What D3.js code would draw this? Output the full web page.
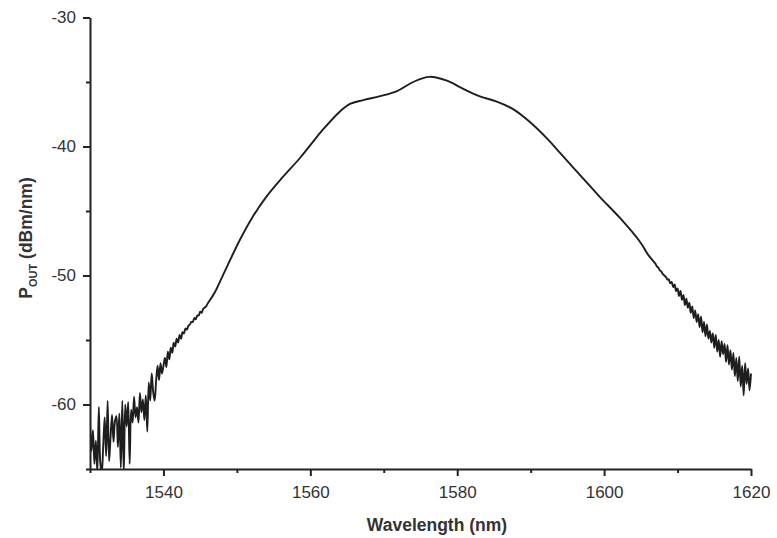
<!DOCTYPE html>
<html><head><meta charset="utf-8">
<script src="https://cdn.jsdelivr.net/npm/d3@7/dist/d3.min.js"></script>
<style>body{margin:0;background:#fff}</style>
</head><body><svg id="c" width="777" height="538"></svg>
<script>
const xMajorTicks = [1540, 1560, 1580, 1600, 1620];
const xMinorTicks = [1530, 1550, 1570, 1590, 1610];
const yMajorTicks = [-60, -50, -40, -30];
const yMinorTicks = [-65, -55, -45, -35];

// noisy short-wavelength edge, sampled every 0.2 nm from 1530.0 nm
const leftStart = 1530.0;
const leftStep = 0.2;
const leftPower = [
  -61.4,-63.6,-62.0,-64.6,-62.8,-65.3,-60.2,-64.5,-65.3,-63.2,
  -61.0,-64.0,-59.7,-64.4,-62.5,-60.8,-62.9,-61.3,-60.9,-63.3,
  -60.7,-64.9,-59.7,-65.3,-60.0,-61.7,-59.8,-64.6,-60.4,-61.4,
  -59.4,-61.0,-60.2,-61.4,-59.1,-60.6,-59.6,-61.2,-59.3,-62.1,
  -58.3,-59.7,-57.6,-59.0,-59.7,-58.2,-57.0,-58.1,-56.8,-57.6,
  -57.0,-56.4,-57.1,-55.9,-56.5,-55.6,-56.0,-55.2,-55.5,-54.9,
  -55.2,-54.6,-54.9,-54.4,-54.5,-54.1,-54.2,-53.9,-53.8,-53.6,
  -53.6,-53.3,-53.4,-53.1,-53.1,-52.8,-52.9,-52.6,-52.5,-52.4,
  -52.2
];

// smooth central part
const midWavelength = [1547.0,1548.0,1550.4,1552.1,1554.0,1556.2,1558.5,1560.0,1561.7,1564.0,1565.4,1567.2,1569.5,1571.8,1574.0,1576.2,1578.6,1580.7,1583.0,1585.3,1587.6,1589.9,1592.6,1594.0,1596.7,1599.4,1602.1,1604.9,1606.0];
const midPower      = [-51.3,-50.1,-47.25,-45.5,-43.9,-42.4,-40.95,-39.9,-38.7,-37.3,-36.7,-36.4,-36.1,-35.7,-35.0,-34.6,-34.9,-35.5,-36.1,-36.5,-37.1,-38.1,-39.6,-40.5,-42.2,-43.9,-45.5,-47.4,-48.4];

// noisy long-wavelength edge, sampled every 0.2 nm from 1607.0 nm
const rightStart = 1607.0;
const rightStep = 0.2;
const rightPower = [
  -49.1,-49.3,-49.4,-49.6,-49.7,-49.9,-50.0,-50.1,-50.3,-50.3,
  -50.6,-50.5,-50.9,-50.7,-51.2,-51.0,-51.6,-51.2,-51.9,-51.5,
  -52.3,-51.8,-52.5,-52.1,-52.9,-52.4,-53.3,-52.7,-53.6,-53.0,
  -54.0,-53.2,-54.4,-53.6,-54.7,-53.8,-54.9,-54.3,-55.2,-54.5,
  -55.6,-54.6,-55.9,-55.0,-56.3,-55.1,-56.1,-55.3,-56.7,-55.4,
  -56.9,-55.8,-57.3,-56.0,-57.8,-56.4,-58.2,-56.3,-58.6,-57.0,
  -59.3,-56.8,-58.4,-57.2,-58.9,-57.6
];

const data = [];
leftPower.forEach((p, i) => data.push([leftStart + i * leftStep, p]));
midWavelength.forEach((w, i) => data.push([w, midPower[i]]));
rightPower.forEach((p, i) => data.push([rightStart + i * rightStep, p]));

const svg = d3.select("#c");
const x = d3.scaleLinear().domain([1530, 1620]).range([90, 751]);
const y = d3.scaleLinear().domain([-65, -30]).range([469, 17.5]);

const font = "'Liberation Sans', Arial, sans-serif";
const axisColor = "#222";

svg.append("defs").append("clipPath").attr("id", "clip")
  .append("rect").attr("x", 90).attr("y", 17).attr("width", 670).attr("height", 452);

// curve
svg.append("path")
  .datum(data)
  .attr("clip-path", "url(#clip)")
  .attr("fill", "none")
  .attr("stroke", "#1e1e1e")
  .attr("stroke-width", 1.9)
  .attr("stroke-linejoin", "round")
  .attr("d", d3.line().x(d => x(d[0])).y(d => y(d[1])).curve(d3.curveCatmullRom.alpha(0.5)));

// x axis
const gx = svg.append("g").attr("transform", "translate(0,469)");
gx.call(d3.axisBottom(x).tickValues(xMajorTicks).tickSize(7).tickSizeOuter(0).tickFormat(d3.format("d")));
const gxm = svg.append("g").attr("transform", "translate(0,469)");
gxm.call(d3.axisBottom(x).tickValues(xMinorTicks).tickSize(4).tickSizeOuter(0).tickFormat(""));
gxm.select(".domain").remove();

// y axis
const gy = svg.append("g").attr("transform", "translate(90,0)");
gy.call(d3.axisLeft(y).tickValues(yMajorTicks).tickSize(7).tickSizeOuter(0).tickFormat(d => d));
const gym = svg.append("g").attr("transform", "translate(90,0)");
gym.call(d3.axisLeft(y).tickValues(yMinorTicks).tickSize(4).tickSizeOuter(0).tickFormat(""));
gym.select(".domain").remove();

svg.selectAll(".domain").attr("stroke", axisColor).attr("stroke-width", 2);
svg.selectAll(".tick line").attr("stroke", axisColor).attr("stroke-width", 2);
svg.selectAll(".tick text").attr("fill", "#333").style("font-family", font).style("font-size", "17px");
gx.selectAll(".tick text").attr("dy", "0.71em").attr("y", 17);
gy.selectAll(".tick text").attr("x", -14).text(d => "-" + Math.abs(d));

// axis titles
svg.append("text")
  .attr("x", 437).attr("y", 531)
  .attr("text-anchor", "middle")
  .style("font-family", font).style("font-size", "17.5px").style("font-weight", "bold")
  .attr("fill", "#333")
  .text("Wavelength (nm)");

const yl = svg.append("text")
  .attr("transform", "translate(32,238) rotate(-90)")
  .attr("text-anchor", "middle")
  .style("font-family", font).style("font-size", "17.5px").style("font-weight", "bold")
  .attr("fill", "#333");
yl.append("tspan").text("P");
yl.append("tspan").attr("dy", 5).style("font-size", "11px").text("OUT");
yl.append("tspan").attr("dy", -5).text(" (dBm/nm)");
</script>
</body></html>
